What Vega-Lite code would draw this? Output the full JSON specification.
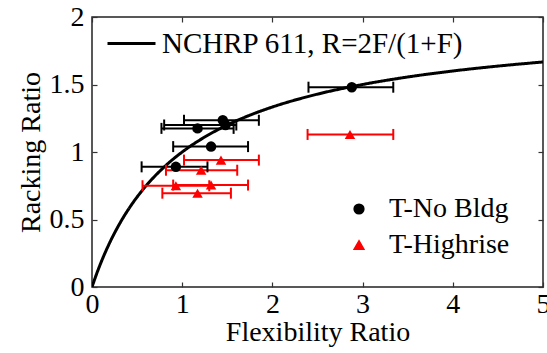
{
  "$schema": "https://vega.github.io/schema/vega-lite/v6.json",
  "width": 451,
  "height": 270,
  "autosize": {"type": "none"},
  "padding": {"left": 92, "top": 17, "right": 4, "bottom": 66},
  "background": "white",
  "config": {
    "font": "Liberation Serif",
    "view": {"stroke": "#222", "strokeWidth": 1.5},
    "axis": {
      "domain": false,
      "grid": false,
      "tickColor": "#333",
      "tickSize": -5,
      "tickWidth": 1.2,
      "labelFont": "Liberation Serif",
      "labelFontSize": 28,
      "labelColor": "black",
      "titleFont": "Liberation Serif",
      "titleFontSize": 28,
      "titleFontWeight": "normal",
      "titleColor": "black",
      "labelFlush": false,
      "labelOverlap": false,
      "labelBound": false
    },
    "legend": {
      "labelFont": "Liberation Serif",
      "labelColor": "black",
      "padding": 0,
      "labelLimit": 500,
      "symbolOpacity": 1
    }
  },
  "datasets": {
    "curve": [
      {"F": 0, "R": 0, "name": "NCHRP 611, R=2F/(1+F)"},
      {"F": 0.05, "R": 0.0952, "name": "NCHRP 611, R=2F/(1+F)"},
      {"F": 0.1, "R": 0.1818, "name": "NCHRP 611, R=2F/(1+F)"},
      {"F": 0.2, "R": 0.3333, "name": "NCHRP 611, R=2F/(1+F)"},
      {"F": 0.3, "R": 0.4615, "name": "NCHRP 611, R=2F/(1+F)"},
      {"F": 0.4, "R": 0.5714, "name": "NCHRP 611, R=2F/(1+F)"},
      {"F": 0.5, "R": 0.6667, "name": "NCHRP 611, R=2F/(1+F)"},
      {"F": 0.6, "R": 0.75, "name": "NCHRP 611, R=2F/(1+F)"},
      {"F": 0.8, "R": 0.8889, "name": "NCHRP 611, R=2F/(1+F)"},
      {"F": 1, "R": 1, "name": "NCHRP 611, R=2F/(1+F)"},
      {"F": 1.25, "R": 1.1111, "name": "NCHRP 611, R=2F/(1+F)"},
      {"F": 1.5, "R": 1.2, "name": "NCHRP 611, R=2F/(1+F)"},
      {"F": 1.75, "R": 1.2727, "name": "NCHRP 611, R=2F/(1+F)"},
      {"F": 2, "R": 1.3333, "name": "NCHRP 611, R=2F/(1+F)"},
      {"F": 2.5, "R": 1.4286, "name": "NCHRP 611, R=2F/(1+F)"},
      {"F": 3, "R": 1.5, "name": "NCHRP 611, R=2F/(1+F)"},
      {"F": 3.5, "R": 1.5556, "name": "NCHRP 611, R=2F/(1+F)"},
      {"F": 4, "R": 1.6, "name": "NCHRP 611, R=2F/(1+F)"},
      {"F": 4.5, "R": 1.6364, "name": "NCHRP 611, R=2F/(1+F)"},
      {"F": 5, "R": 1.6667, "name": "NCHRP 611, R=2F/(1+F)"}
    ],
    "points": [
      {"series": "T-No Bldg", "F": 2.88, "R": 1.48, "Flo": 2.4, "Fhi": 3.34},
      {"series": "T-No Bldg", "F": 1.45, "R": 1.235, "Flo": 1.02, "Fhi": 1.85},
      {"series": "T-No Bldg", "F": 1.48, "R": 1.2, "Flo": 0.8, "Fhi": 1.6},
      {"series": "T-No Bldg", "F": 1.17, "R": 1.175, "Flo": 0.77, "Fhi": 1.57},
      {"series": "T-No Bldg", "F": 1.32, "R": 1.04, "Flo": 0.9, "Fhi": 1.73},
      {"series": "T-No Bldg", "F": 0.93, "R": 0.89, "Flo": 0.55, "Fhi": 1.28},
      {"series": "T-Highrise", "F": 2.86, "R": 1.13, "Flo": 2.39, "Fhi": 3.34},
      {"series": "T-Highrise", "F": 1.43, "R": 0.94, "Flo": 1.02, "Fhi": 1.85},
      {"series": "T-Highrise", "F": 1.21, "R": 0.865, "Flo": 0.82, "Fhi": 1.61},
      {"series": "T-Highrise", "F": 0.93, "R": 0.75, "Flo": 0.56, "Fhi": 1.3},
      {"series": "T-Highrise", "F": 1.32, "R": 0.755, "Flo": 0.9, "Fhi": 1.73},
      {"series": "T-Highrise", "F": 1.17, "R": 0.695, "Flo": 0.78, "Fhi": 1.54}
    ]
  },
  "resolve": {"axis": {"x": "independent", "y": "independent"}},
  "layer": [
    {
      "data": {"name": "curve"},
      "mark": {"type": "line", "color": "black", "strokeWidth": 3, "interpolate": "monotone", "clip": true},
      "encoding": {
        "x": {"field": "F", "type": "quantitative", "scale": {"domain": [0, 5], "nice": false},
          "axis": {"orient": "bottom", "values": [0, 1, 2, 3, 4, 5], "title": "Flexibility Ratio", "labelPadding": 8, "titlePadding": 0}},
        "y": {"field": "R", "type": "quantitative", "scale": {"domain": [0, 2], "nice": false},
          "axis": {"orient": "left", "values": [0, 0.5, 1, 1.5, 2], "format": "~g", "title": "Racking Ratio", "labelPadding": 13, "titlePadding": 4}},
        "strokeDash": {"field": "name", "type": "nominal", "scale": {"range": [[1, 0]]},
          "legend": {"title": null, "orient": "none", "legendX": 14, "legendY": 1, "symbolType": "stroke", "symbolSize": 2304, "symbolStrokeWidth": 3, "symbolStrokeColor": "black", "labelFontSize": 29, "labelOffset": 5}}
      }
    },
    {
      "data": {"name": "points"},
      "mark": {"type": "rule", "strokeWidth": 2},
      "encoding": {
        "x": {"field": "Flo", "type": "quantitative", "scale": {"domain": [0, 5], "nice": false}, "axis": null},
        "x2": {"field": "Fhi"},
        "y": {"field": "R", "type": "quantitative", "scale": {"domain": [0, 2], "nice": false}, "axis": null},
        "color": {"field": "series", "type": "nominal", "scale": {"domain": ["T-No Bldg", "T-Highrise"], "range": ["black", "red"]}}
      }
    },
    {
      "data": {"name": "points"},
      "mark": {"type": "tick", "orient": "vertical", "size": 11, "thickness": 2, "opacity": 1},
      "encoding": {
        "x": {"field": "Flo", "type": "quantitative", "scale": {"domain": [0, 5], "nice": false}, "axis": null},
        "y": {"field": "R", "type": "quantitative", "scale": {"domain": [0, 2], "nice": false}, "axis": null},
        "color": {"field": "series", "type": "nominal", "scale": {"domain": ["T-No Bldg", "T-Highrise"], "range": ["black", "red"]}}
      }
    },
    {
      "data": {"name": "points"},
      "mark": {"type": "tick", "orient": "vertical", "size": 11, "thickness": 2, "opacity": 1},
      "encoding": {
        "x": {"field": "Fhi", "type": "quantitative", "scale": {"domain": [0, 5], "nice": false}, "axis": null},
        "y": {"field": "R", "type": "quantitative", "scale": {"domain": [0, 2], "nice": false}, "axis": null},
        "color": {"field": "series", "type": "nominal", "scale": {"domain": ["T-No Bldg", "T-Highrise"], "range": ["black", "red"]}}
      }
    },
    {
      "data": {"name": "points"},
      "mark": {"type": "point", "filled": true, "opacity": 1},
      "encoding": {
        "x": {"field": "F", "type": "quantitative", "scale": {"domain": [0, 5], "nice": false}, "axis": null},
        "y": {"field": "R", "type": "quantitative", "scale": {"domain": [0, 2], "nice": false}, "axis": null},
        "color": {"field": "series", "type": "nominal", "scale": {"domain": ["T-No Bldg", "T-Highrise"], "range": ["black", "red"]},
          "legend": {"title": null, "orient": "none", "legendX": 253, "legendY": 178, "labelFontSize": 28, "labelOffset": 16, "rowPadding": 8, "symbolSize": 95}},
        "shape": {"field": "series", "type": "nominal", "scale": {"domain": ["T-No Bldg", "T-Highrise"], "range": ["circle", "triangle-up"]},
          "legend": {"title": null, "orient": "none", "legendX": 253, "legendY": 178, "labelFontSize": 28, "labelOffset": 16, "rowPadding": 8, "symbolSize": 95}},
        "size": {"value": 110}
      }
    },
    {
      "data": {"name": "curve"},
      "mark": {"type": "line", "strokeOpacity": 0},
      "encoding": {
        "x": {"field": "F", "type": "quantitative", "scale": {"domain": [0, 5], "nice": false},
          "axis": {"orient": "top", "values": [0, 1, 2, 3, 4, 5], "labels": false, "title": null}},
        "y": {"field": "R", "type": "quantitative", "scale": {"domain": [0, 2], "nice": false},
          "axis": {"orient": "right", "values": [0, 0.5, 1, 1.5, 2], "labels": false, "title": null}}
      }
    }
  ]
}
